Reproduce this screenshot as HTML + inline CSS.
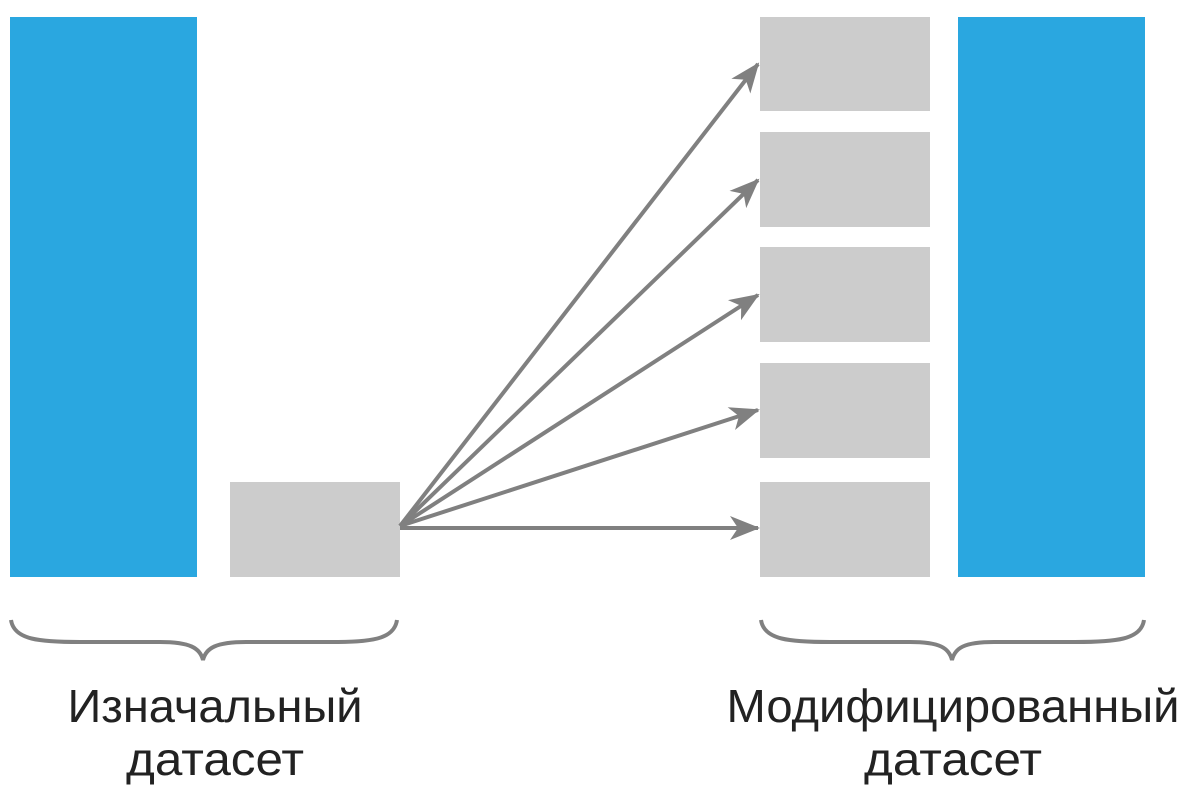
<!DOCTYPE html>
<html><head><meta charset="utf-8"><style>html,body{margin:0;padding:0;background:#fff}</style></head>
<body>
<svg width="1200" height="800" xmlns="http://www.w3.org/2000/svg">
<rect x="10" y="17" width="187" height="560" fill="#2aa7e0"/>
<rect x="958" y="17" width="187" height="560" fill="#2aa7e0"/>
<rect x="230" y="482" width="170" height="95" fill="#cccccc"/>
<rect x="760" y="17" width="170" height="94" fill="#cccccc"/>
<rect x="760" y="132" width="170" height="95" fill="#cccccc"/>
<rect x="760" y="247" width="170" height="95" fill="#cccccc"/>
<rect x="760" y="363" width="170" height="95" fill="#cccccc"/>
<rect x="760" y="482" width="170" height="95" fill="#cccccc"/>
<defs><marker id="a" markerWidth="30" markerHeight="26" refX="28" refY="13" orient="auto" markerUnits="userSpaceOnUse" viewBox="0 0 30 26"><path d="M0,1 L30,13 L0,25 L8,13 Z" fill="#808080"/></marker></defs>
<g stroke="#808080" stroke-width="4" fill="none" marker-end="url(#a)">
<line x1="400" y1="526" x2="758" y2="64"/>
<line x1="400" y1="526" x2="758" y2="180"/>
<line x1="400" y1="526" x2="758" y2="295"/>
<line x1="400" y1="526" x2="758" y2="410"/>
<line x1="400" y1="528" x2="758" y2="528"/>
</g>
<g stroke="#808080" stroke-width="4" fill="none">
<path d="M11,620 C14,640 40,642 80,642 L160,642 C190,642 200,648 203,660 C206,648 216,642 246,642 L330,642 C370,642 394,640 397,620"/>
<path d="M761,620 C764,640 790,642 830,642 L910,642 C940,642 949,648 952,660 C955,648 964,642 994,642 L1075,642 C1115,642 1141,640 1144,620"/>
</g>
<g font-family="Liberation Sans, sans-serif" font-size="46" fill="#222" text-anchor="middle" font-weight="300">
<text x="215" y="722" textLength="295" lengthAdjust="spacingAndGlyphs">Изначальный</text>
<text x="215" y="775" textLength="178" lengthAdjust="spacingAndGlyphs">датасет</text>
<text x="953" y="722" textLength="453" lengthAdjust="spacingAndGlyphs">Модифицированный</text>
<text x="953" y="775" textLength="178" lengthAdjust="spacingAndGlyphs">датасет</text>
</g>
</svg>
</body></html>
